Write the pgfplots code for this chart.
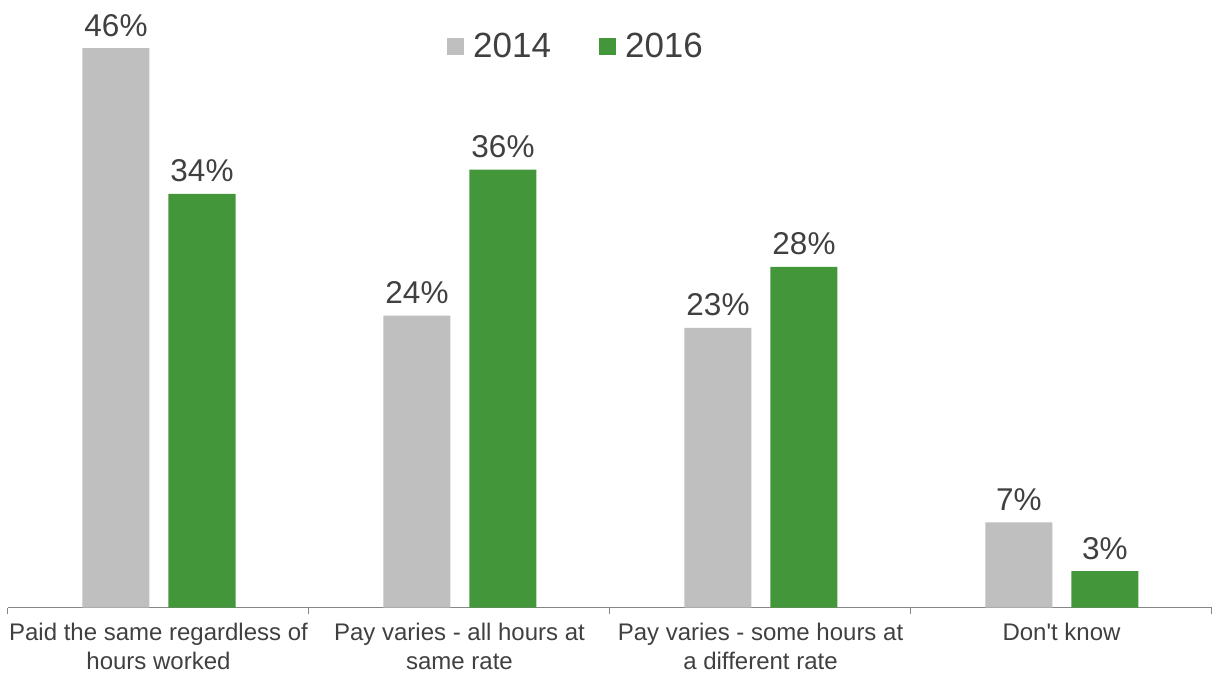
\documentclass[border=0pt]{standalone}
\usepackage{pgfplots}
\pgfplotsset{compat=1.18}
\usepackage{fontspec}
\setmainfont{Liberation Sans}
\definecolor{barGray}{HTML}{BFBFBF}
\definecolor{barGreen}{HTML}{43963A}
\definecolor{txt}{HTML}{404040}
\definecolor{axisline}{HTML}{868686}
\begin{document}
\begin{tikzpicture}
\clip (-8pt,-64.5pt) rectangle (1204pt,607.5pt);
\begin{axis}[
  at={(0,0)}, anchor=south west,
  scale only axis,
  width=1204pt, height=607.5pt,
  xmin=-0.5, xmax=3.5, ymin=0, ymax=49.95,
  axis x line=bottom, axis y line=none,
  axis line style={axisline, line width=1pt, -},
  x axis line style={-},
  /pgf/number format/assume math mode=true,
  xtick={0,1,2,3},
  xticklabels={{Paid the same regardless of\\hours worked},{Pay varies - all hours at\\same rate},{Pay varies - some hours at\\a different rate},{Don\textquotesingle t know}},
  xticklabel style={align=center, font=\fontsize{24}{29}\selectfont, text=txt, yshift=-8pt},
  major x tick style={draw=none},
  minor xtick={-0.5,0.5,1.5,2.5,3.5},
  minor tick length=6pt,
  minor x tick style={axisline, line width=1pt},
  tick align=outside,
  ybar, bar width=67pt,
  nodes near coords={\pgfmathprintnumber{\pgfplotspointmeta}\%},
  nodes near coords style={font=\fontsize{31.5}{38}\selectfont, text=txt, anchor=base, yshift=12pt, inner sep=0pt},
  legend style={at={(0.4718,0.924)}, anchor=center, draw=none, fill=none, legend columns=2,
    font=\fontsize{35}{40}\selectfont, text=txt, inner xsep=0pt,
    /tikz/every odd column/.append style={column sep=7pt},
    /tikz/every even column/.append style={column sep=46pt}},
  legend image code/.code={\fill[#1] (0pt,-8.5pt) rectangle (17pt,8.5pt);},
  clip=false,
]
\addplot[fill=barGray, draw=none, bar shift=-42.5pt] coordinates {(0,46) (1,24) (2,23) (3,7)};
\addplot[fill=barGreen, draw=none, bar shift=43.5pt] coordinates {(0,34) (1,36) (2,28) (3,3)};
\legend{2014,2016}
\end{axis}
\end{tikzpicture}
\end{document}
